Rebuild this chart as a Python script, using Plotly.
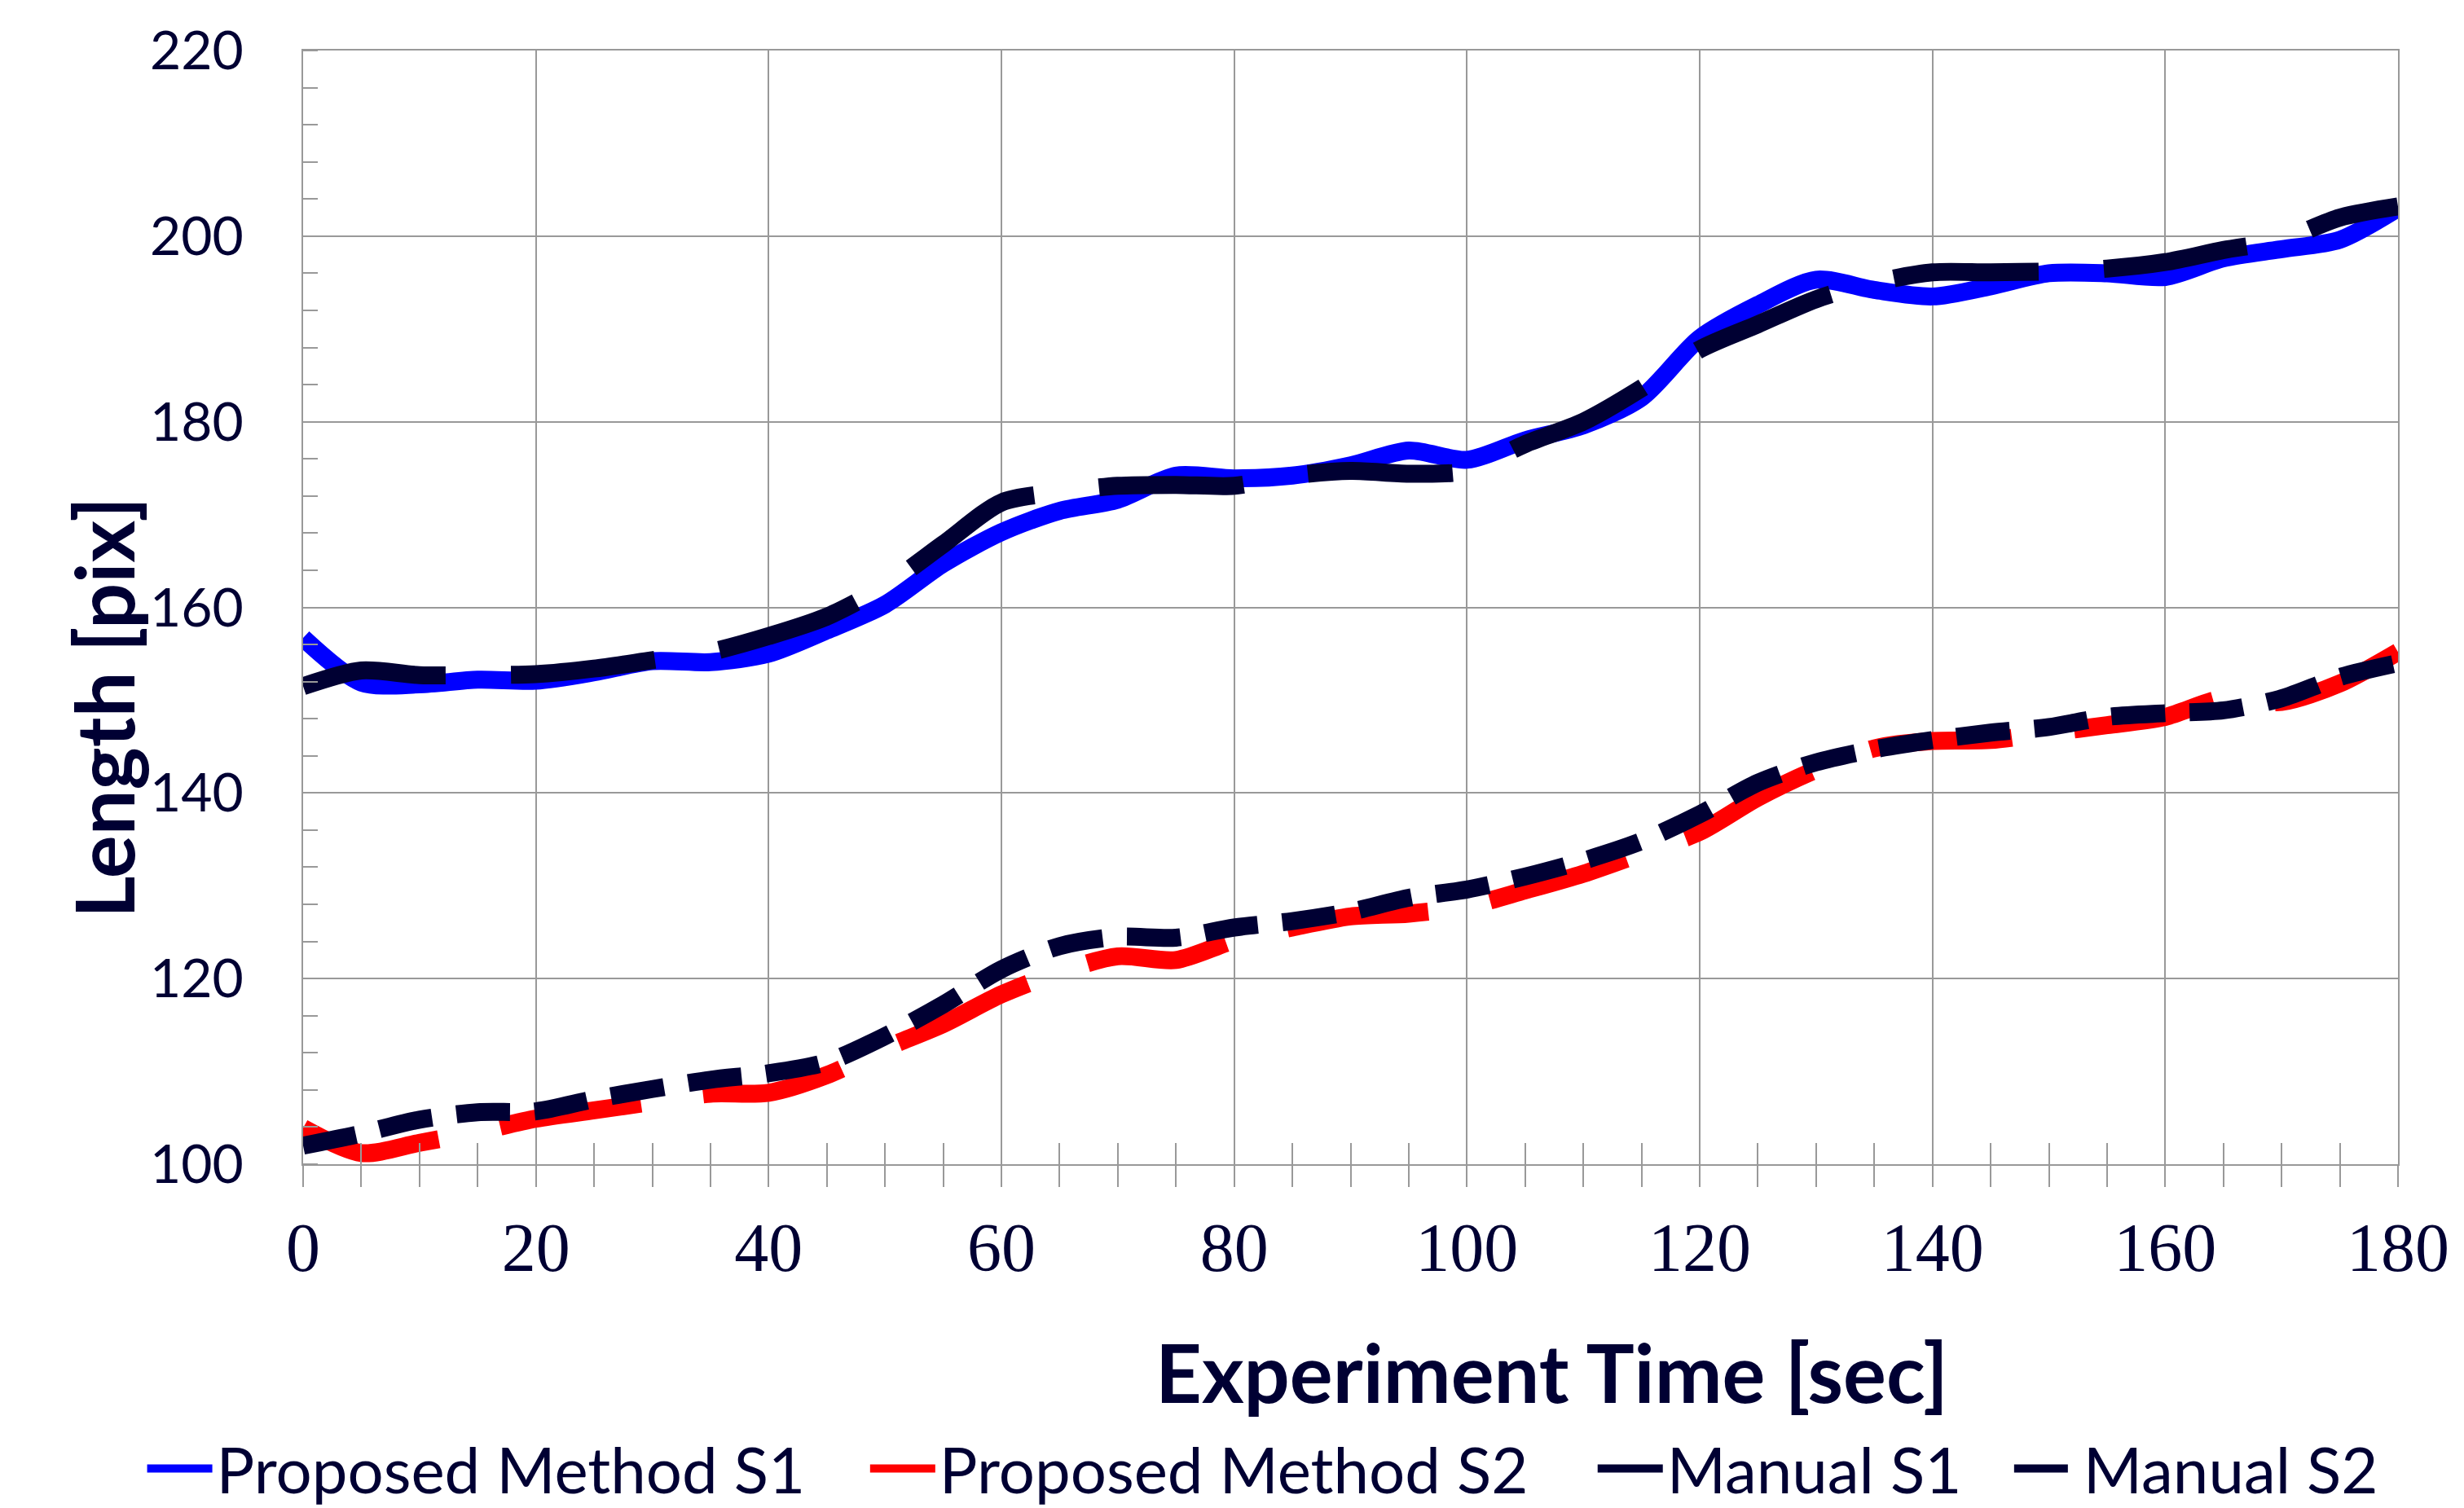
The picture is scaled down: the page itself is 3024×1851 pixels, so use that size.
import plotly.graph_objects as go

time_sec = [0, 5, 10, 15, 20, 25, 30, 35, 40, 45, 50, 55, 60, 65, 70, 75, 80, 85, 90,
            95, 100, 105, 110, 115, 120, 125, 130, 135, 140, 145, 150, 155, 160, 165,
            170, 175, 180]

proposed_s1 = [156.7, 151.9, 151.7, 152.2, 152.1, 153.0, 154.2, 154.1, 155.0, 157.5,
               160.3, 164.7, 168.1, 170.4, 171.6, 174.2, 173.9, 174.2, 175.3, 176.9,
               175.9, 178.0, 179.6, 182.6, 189.0, 192.6, 195.3, 194.2, 193.5, 194.6,
               196.0, 196.0, 195.6, 197.6, 198.6, 199.6, 203.0]

proposed_s2 = [103.9, 101.2, 102.3, 103.5, 104.9, 105.8, 106.7, 107.6, 107.7, 109.6,
               112.5, 115.1, 118.3, 120.7, 122.4, 122.0, 124.1, 125.5, 126.7, 127.0,
               127.8, 129.5, 131.3, 133.5, 135.8, 139.5, 142.5, 144.8, 145.6, 145.7,
               146.5, 147.3, 148.2, 150.2, 149.8, 151.8, 155.2]

manual_s1 = [151.5, 153.2, 152.7, 152.7, 152.8, 153.4, 154.3, 155.2, 156.9, 159.0,
             162.3, 166.8, 171.3, 172.4, 173.1, 173.2, 173.1, 174.2, 174.7, 174.4,
             174.7, 177.6, 180.0, 183.6, 187.8, 190.5, 193.2, 195.0, 196.1, 196.1,
             196.2, 196.5, 197.2, 198.5, 199.6, 202.0, 203.2]

manual_s2 = [102.0, 103.3, 104.8, 105.6, 105.7, 107.0, 108.1, 109.1, 109.8, 111.0,
             113.8, 117.2, 121.0, 123.5, 124.5, 124.4, 125.5, 126.2, 127.2, 128.7,
             129.6, 131.0, 132.7, 134.8, 137.7, 141.1, 143.3, 144.7, 145.7, 146.5,
             147.1, 148.2, 148.6, 148.9, 150.2, 152.5, 154.0]

x_ticks = [0, 20, 40, 60, 80, 100, 120, 140, 160, 180]
y_ticks = [100, 120, 140, 160, 180, 200, 220]

NAVY = "#000033"
GRID = "#999999"

fig = go.Figure()
fig.add_trace(go.Scatter(x=time_sec, y=proposed_s1, mode="lines", name="Proposed Method S1",
                         legend="legend",
                         line=dict(color="#0000FF", width=22, shape="spline", smoothing=0.8)))
fig.add_trace(go.Scatter(x=time_sec, y=proposed_s2, mode="lines", name="Proposed Method S2",
                         legend="legend2",
                         line=dict(color="#FF0000", width=22, shape="spline", smoothing=0.8,
                                   dash="175px,77px")))
fig.add_trace(go.Scatter(x=time_sec, y=manual_s1, mode="lines", name="Manual S1",
                         legend="legend3",
                         line=dict(color=NAVY, width=22, shape="spline", smoothing=0.8,
                                   dash="178px,80px")))
fig.add_trace(go.Scatter(x=time_sec, y=manual_s2, mode="lines", name="Manual S2",
                         legend="legend4",
                         line=dict(color=NAVY, width=22, shape="spline", smoothing=0.8,
                                   dash="66px,30px")))
# invisible trace to carry the overlay axis (crossing tick marks)
fig.add_trace(go.Scatter(x=[0, 180], y=[100, 100], xaxis="x2", mode="lines",
                         line=dict(width=0), showlegend=False, hoverinfo="skip"))

leg_common = dict(orientation="h", xanchor="left", y=-0.2735, yanchor="middle",
                  font=dict(family="Lato", size=78, color=NAVY), itemwidth=80,
                  bgcolor="rgba(0,0,0,0)")

fig.update_layout(
    width=3024, height=1880,
    paper_bgcolor="white", plot_bgcolor="white",
    margin=dict(l=364, r=89, t=52, b=459),
    font=dict(family="Lato", color=NAVY),
    xaxis=dict(range=[0, 180], tickvals=x_ticks, showgrid=True, gridcolor=GRID, gridwidth=2,
               showline=True, linecolor=GRID, linewidth=2, mirror=True,
               ticks="outside", ticklen=26, tickwidth=2, tickcolor=GRID,
               minor=dict(dtick=5, ticks="outside", ticklen=26, tickwidth=2, tickcolor=GRID,
                          showgrid=False),
               tickfont=dict(family="Liberation Serif", size=84, color=NAVY),
               ticklabelstandoff=2, zeroline=False),
    xaxis2=dict(range=[0, 180], overlaying="x", side="bottom", tickvals=x_ticks,
                showgrid=False, showticklabels=False, showline=False, zeroline=False,
                ticks="inside", ticklen=34, tickwidth=2, tickcolor=GRID,
                minor=dict(dtick=5, ticks="inside", ticklen=26, tickwidth=2, tickcolor=GRID)),
    yaxis=dict(range=[100, 220], tickvals=y_ticks, showgrid=True, gridcolor=GRID, gridwidth=2,
               showline=True, linecolor=GRID, linewidth=2, mirror=True,
               ticks="", minor=dict(dtick=4, ticks="inside", ticklen=18, tickwidth=2,
                                    tickcolor=GRID, showgrid=False),
               tickfont=dict(family="Lato", size=66, color=NAVY),
               ticklabelstandoff=58, zeroline=False),
    legend=dict(x=-0.0764, **leg_common),
    legend2=dict(x=0.2687, **leg_common),
    legend3=dict(x=0.616, **leg_common),
    legend4=dict(x=0.8148, **leg_common),
    annotations=[
        dict(text="<b>Experiment Time [sec]</b>", xref="paper", yref="paper",
             x=0.596, y=-0.186, xanchor="center", yanchor="middle", showarrow=False,
             font=dict(family="Lato", size=99, color=NAVY)),
        dict(text="<b>Length [pix]</b>", xref="paper", yref="paper",
             x=-0.0955, y=0.41, xanchor="center", yanchor="middle", showarrow=False,
             textangle=-90, font=dict(family="Lato", size=99, color=NAVY)),
    ],
)

fig.write_html("out.html")
